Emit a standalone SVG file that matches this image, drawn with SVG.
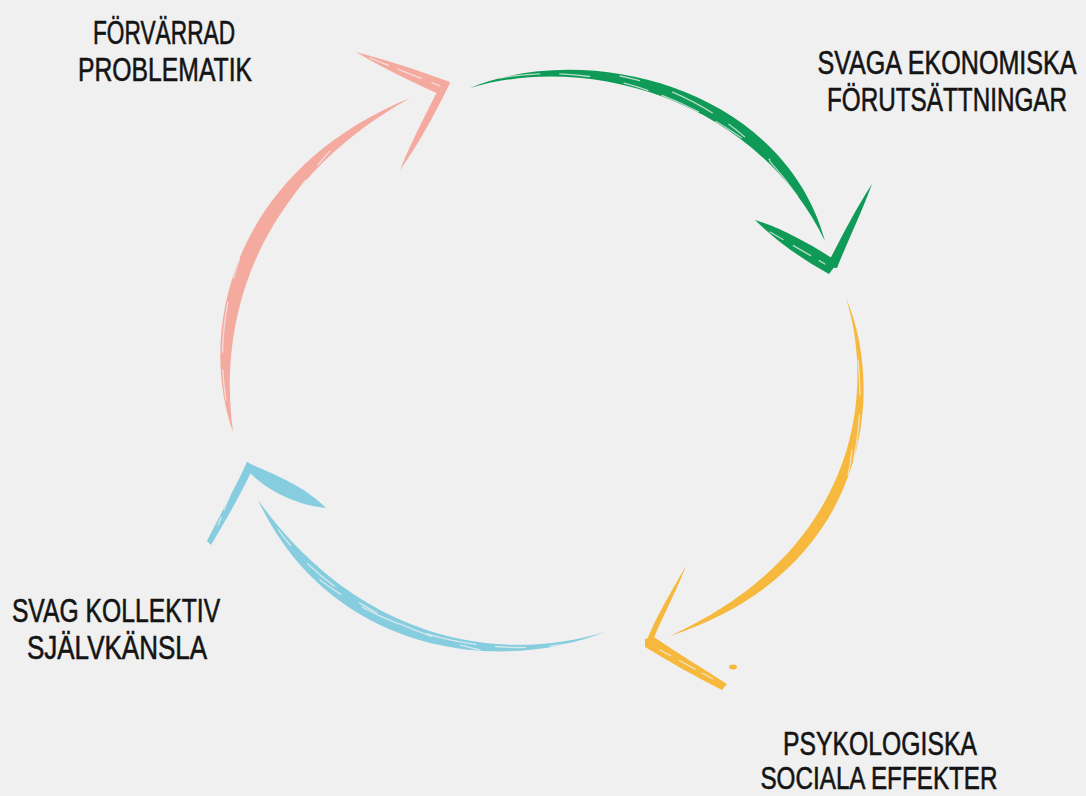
<svg xmlns="http://www.w3.org/2000/svg" width="1086" height="796" viewBox="0 0 1086 796">
<style>
.lbl{font-family:"Liberation Sans","DejaVu Sans",Arial,sans-serif;font-size:33px;fill:#141414;stroke:#141414;stroke-width:0.6;text-anchor:middle}
.pink{fill:#f5aa9f}
.green{fill:#0f9a57}
.yellow{fill:#f6b93d}
.blue{fill:#86cde0}
.streak{fill:none;stroke:#f0f0f0;stroke-width:1.3;stroke-linecap:round;opacity:.75}
</style>
<rect width="1086" height="796" fill="#f0f0f0"/>
<g id="connectors">
  <g id="arrow-pink">
    <path class="pink" d="M233,432 C197,330 232,171 410,98 C247,189 219,330 233,432 Z"/>
    <path class="pink" d="M356,52 C390,61 420,71 450,82 L443,96 C410,81 385,69 356,52 Z"/>
    <path class="pink" d="M450,83 C436,112 418,145 400,170 C412,140 427,112 438,90 Z"/>
    <path class="streak" d="M226,400 C214,330 232,230 300,160" stroke-dasharray="30 18 50 25 20 40"/>
    <path class="streak" d="M236,360 C236,300 260,220 350,130" stroke-dasharray="18 30 40 20"/>
    <path class="streak" d="M370,58 L440,86" stroke-dasharray="20 10 25 12"/>
  </g>
  <g id="arrow-green">
    <path class="green" d="M470,88 C590,39 784,89 825,241 C757,101 590,52 470,88 Z"/>
    <path class="green" d="M755,220 C782,228 812,245 838,262 L829,274 C802,259 776,241 755,220 Z"/>
    <path class="green" d="M872,184 C862,212 848,240 837,268 L826,267 C840,240 855,210 872,184 Z"/>
    <path class="streak" d="M500,78 C600,60 700,100 770,160" stroke-dasharray="40 20 30 35 25 15"/>
    <path class="streak" d="M620,76 C700,92 760,140 800,200" stroke-dasharray="20 35 45 20"/>
    <path class="streak" d="M770,232 L825,264" stroke-dasharray="15 12 20 10"/>
  </g>
  <g id="arrow-yellow">
    <path class="yellow" d="M846,298 C886,390 870,571 670,636 C860,549 875,390 846,298 Z"/>
    <path class="yellow" d="M686,566 C676,592 662,618 653,640 L646,642 C657,615 672,590 686,566 Z"/>
    <path class="yellow" d="M645,639 L654,637 C676,652 702,668 727,684 L722,690 C696,677 668,661 645,647 Z"/>
    <ellipse class="yellow" cx="733" cy="667" rx="4" ry="2.5"/>
    <path class="streak" d="M858,360 C865,430 855,510 790,580" stroke-dasharray="35 20 45 25 20 30"/>
    <path class="streak" d="M852,450 C845,520 810,570 740,610" stroke-dasharray="25 30 40 18"/>
    <path class="streak" d="M660,650 L715,680" stroke-dasharray="12 10 18 8"/>
  </g>
  <g id="arrow-blue">
    <path class="blue" d="M605,632 C490,677 327,648 258,500 C353,633 490,667 605,632 Z"/>
    <path class="blue" d="M247,462 L254,466 C242,492 226,520 211,545 L207,541 C220,515 235,488 247,462 Z"/>
    <path class="blue" d="M246,462 C270,473 302,484 326,508 C296,505 268,491 250,473 Z"/>
    <path class="streak" d="M590,640 C500,660 400,640 320,580" stroke-dasharray="40 25 30 20 50 30"/>
    <path class="streak" d="M480,650 C400,632 320,592 275,525" stroke-dasharray="20 30 35 25"/>
    <path class="streak" d="M236,480 L218,525" stroke-dasharray="10 8 14 8"/>
  </g>
</g>
<g id="node-forvarrad">
  <text class="lbl" transform="translate(164,44) scale(0.76,1)" textLength="187" lengthAdjust="spacingAndGlyphs">FÖRVÄRRAD</text>
  <text class="lbl" transform="translate(165,81) scale(0.76,1)" textLength="229" lengthAdjust="spacingAndGlyphs">PROBLEMATIK</text>
</g>
<g id="node-svaga-ekonomiska">
  <text class="lbl" transform="translate(947,74) scale(0.76,1)" textLength="341" lengthAdjust="spacingAndGlyphs">SVAGA EKONOMISKA</text>
  <text class="lbl" transform="translate(947,111) scale(0.76,1)" textLength="316" lengthAdjust="spacingAndGlyphs">FÖRUTSÄTTNINGAR</text>
</g>
<g id="node-psykologiska">
  <text class="lbl" transform="translate(880,755) scale(0.76,1)" textLength="255" lengthAdjust="spacingAndGlyphs">PSYKOLOGISKA</text>
  <text class="lbl" transform="translate(879,789) scale(0.76,1)" textLength="312" lengthAdjust="spacingAndGlyphs" style="font-size:31px">SOCIALA EFFEKTER</text>
</g>
<g id="node-svag-kollektiv">
  <text class="lbl" transform="translate(116,622) scale(0.76,1)" textLength="274" lengthAdjust="spacingAndGlyphs">SVAG KOLLEKTIV</text>
  <text class="lbl" transform="translate(117,659) scale(0.76,1)" textLength="237" lengthAdjust="spacingAndGlyphs">SJÄLVKÄNSLA</text>
</g>
</svg>
